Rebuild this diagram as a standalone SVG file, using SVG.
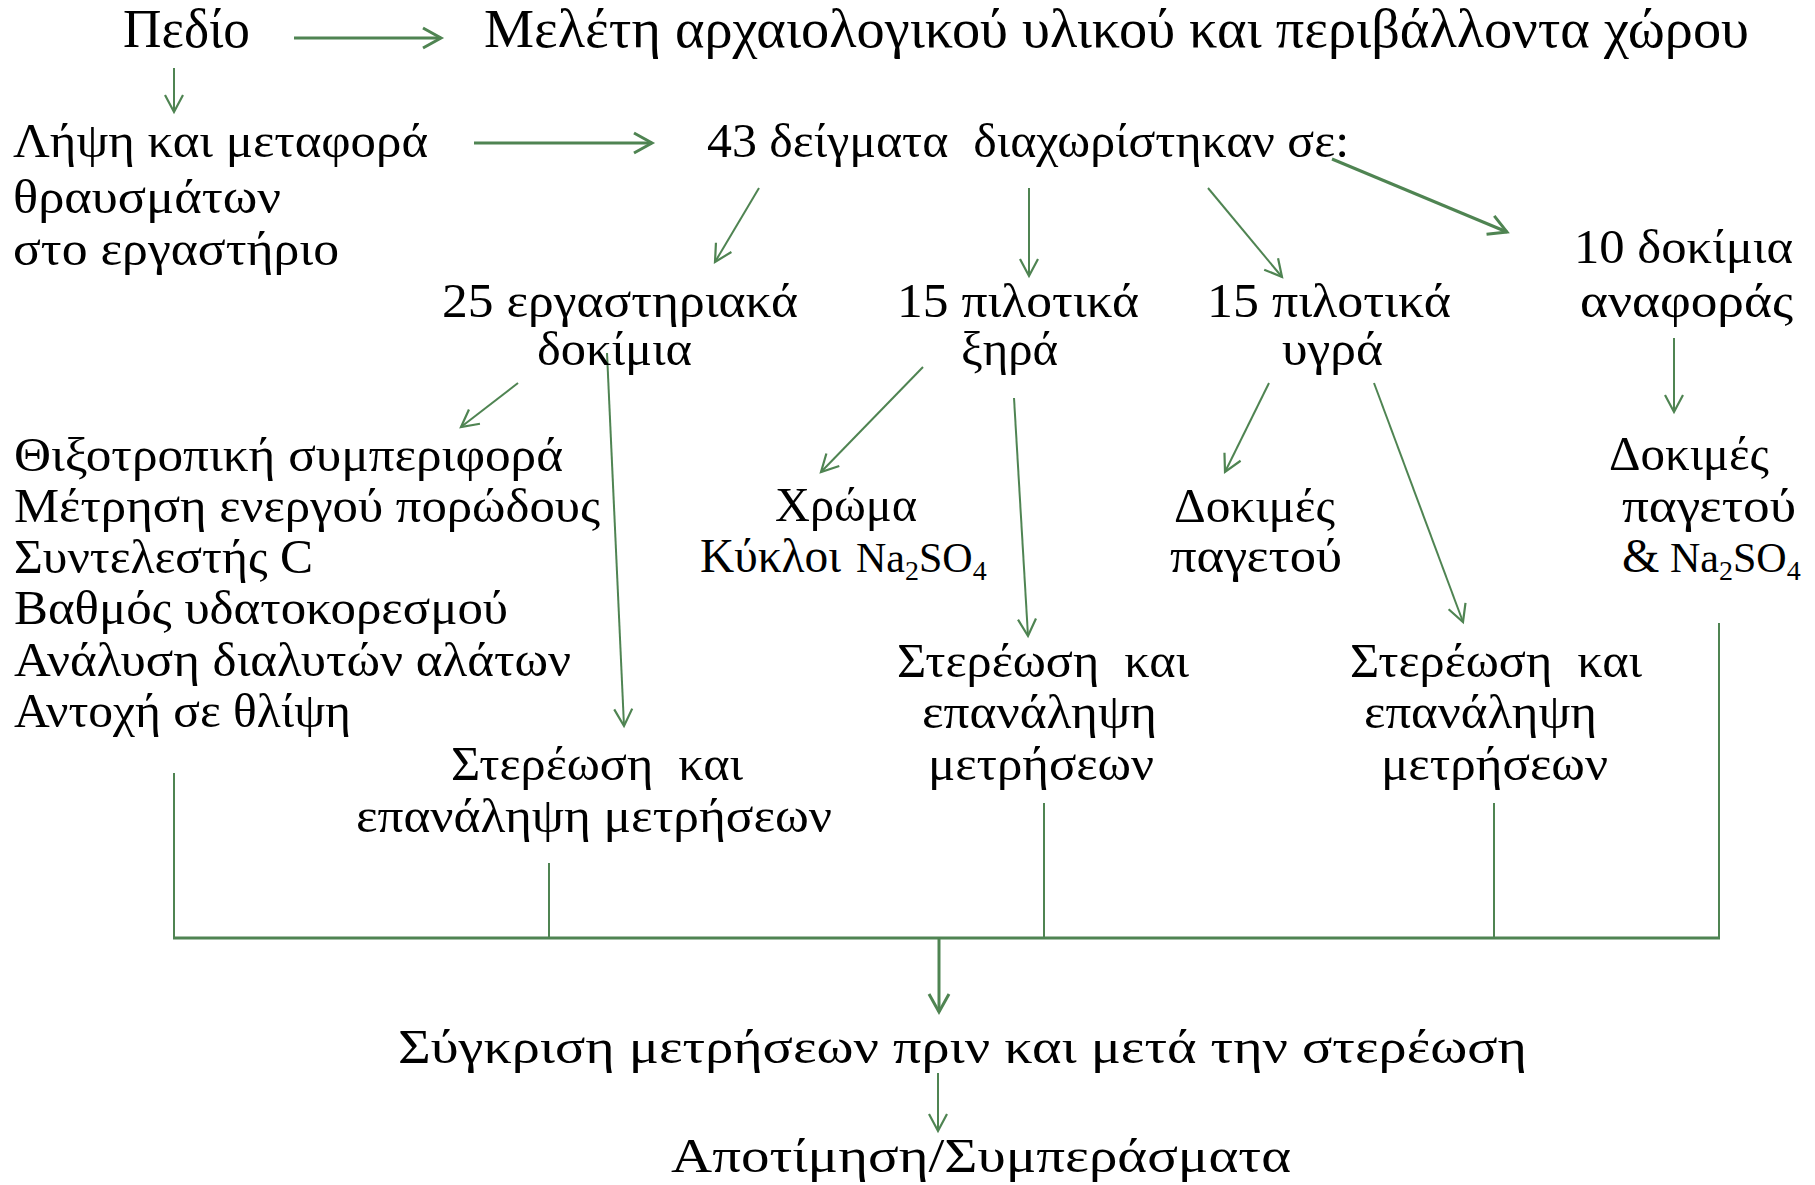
<svg xmlns="http://www.w3.org/2000/svg" width="1815" height="1185" viewBox="0 0 1815 1185">
<style>
text{font-family:"Liberation Serif","Times New Roman",serif;fill:#000;font-size:48px}
.big{font-size:55px}
.c{fill:none;stroke:#4F8452;stroke-width:2}
.k{fill:none;stroke:#4F8452;stroke-width:3}
.chem{font-size:42px}
.sub{font-size:28px}
</style>
<defs>
<marker id="ah" markerUnits="userSpaceOnUse" viewBox="-20 -12 24 24" refX="0" refY="0" markerWidth="24" markerHeight="24" orient="auto">
<path d="M-17,-9 L0,0 L-17,9" fill="none" stroke="#4F8452" stroke-width="2.2"/>
</marker>
<marker id="ahk" markerUnits="userSpaceOnUse" viewBox="-20 -12 24 24" refX="0" refY="0" markerWidth="24" markerHeight="24" orient="auto">
<path d="M-18,-10 L0,0 L-18,10" fill="none" stroke="#4F8452" stroke-width="3"/>
</marker>
</defs>
<rect width="1815" height="1185" fill="#fff"/>
<g id="connectors">
<line class="k" x1="294" y1="38" x2="441" y2="38" marker-end="url(#ahk)"/>
<line class="c" x1="174" y1="68" x2="174" y2="112" marker-end="url(#ah)"/>
<line class="k" x1="474" y1="143" x2="652" y2="143" marker-end="url(#ahk)"/>
<line class="c" x1="759" y1="188" x2="715" y2="262" marker-end="url(#ah)"/>
<line class="c" x1="1029" y1="188" x2="1029" y2="276" marker-end="url(#ah)"/>
<line class="c" x1="1208" y1="188" x2="1282" y2="277" marker-end="url(#ah)"/>
<line class="k" x1="1332" y1="159" x2="1507" y2="232" marker-end="url(#ahk)"/>
<line class="c" x1="518" y1="383" x2="461" y2="427" marker-end="url(#ah)"/>
<line class="c" x1="607" y1="353" x2="624" y2="726" marker-end="url(#ah)"/>
<line class="c" x1="923" y1="367" x2="821" y2="472" marker-end="url(#ah)"/>
<line class="c" x1="1014" y1="398" x2="1028" y2="636" marker-end="url(#ah)"/>
<line class="c" x1="1269" y1="383" x2="1225" y2="472" marker-end="url(#ah)"/>
<line class="c" x1="1374" y1="383" x2="1463" y2="622" marker-end="url(#ah)"/>
<line class="c" x1="1674" y1="338" x2="1674" y2="412" marker-end="url(#ah)"/>
<path class="c" d="M174,773 V938 M549,863 V938 M1044,803 V938 M1494,803 V938 M1719,623 V938"/>
<line class="k" x1="173" y1="938" x2="1720" y2="938"/>
<line class="k" x1="939" y1="938" x2="939" y2="1012" marker-end="url(#ahk)"/>
<line class="c" x1="938" y1="1073" x2="938" y2="1131" marker-end="url(#ah)"/>
</g>
<g id="n-pedio"><text class="big" x="123" y="47" textLength="127" lengthAdjust="spacingAndGlyphs">Πεδίο</text></g>
<g id="n-meleti"><text class="big" x="484" y="47" textLength="1265" lengthAdjust="spacingAndGlyphs">Μελέτη αρχαιολογικού υλικού και περιβάλλοντα χώρου</text></g>
<g id="n-lipsi">
<text x="13" y="157" textLength="415" lengthAdjust="spacingAndGlyphs">Λήψη και μεταφορά</text>
<text x="13" y="213" textLength="268" lengthAdjust="spacingAndGlyphs">θραυσμάτων</text>
<text x="13" y="265" textLength="326" lengthAdjust="spacingAndGlyphs">στο εργαστήριο</text>
</g>
<g id="n-43"><text x="707" y="157" xml:space="preserve" textLength="642" lengthAdjust="spacingAndGlyphs">43 δείγματα  διαχωρίστηκαν σε:</text></g>
<g id="n-25">
<text x="442" y="317" textLength="356" lengthAdjust="spacingAndGlyphs">25 εργαστηριακά</text>
<text x="537" y="365" textLength="155" lengthAdjust="spacingAndGlyphs">δοκίμια</text>
</g>
<g id="n-xira">
<text x="897" y="317" textLength="242" lengthAdjust="spacingAndGlyphs">15 πιλοτικά</text>
<text x="961" y="365" textLength="97" lengthAdjust="spacingAndGlyphs">ξηρά</text>
</g>
<g id="n-ygra">
<text x="1207" y="317" textLength="244" lengthAdjust="spacingAndGlyphs">15 πιλοτικά</text>
<text x="1282" y="365" textLength="101" lengthAdjust="spacingAndGlyphs">υγρά</text>
</g>
<g id="n-10">
<text x="1574" y="263" textLength="219" lengthAdjust="spacingAndGlyphs">10 δοκίμια</text>
<text x="1580" y="317" textLength="213" lengthAdjust="spacingAndGlyphs">αναφοράς</text>
</g>
<g id="n-list">
<text x="14" y="471" textLength="549" lengthAdjust="spacingAndGlyphs">Θιξοτροπική συμπεριφορά</text>
<text x="14" y="522" textLength="586" lengthAdjust="spacingAndGlyphs">Μέτρηση ενεργού πορώδους</text>
<text x="14" y="573" textLength="299" lengthAdjust="spacingAndGlyphs">Συντελεστής C</text>
<text x="14" y="624" textLength="494" lengthAdjust="spacingAndGlyphs">Βαθμός υδατοκορεσμού</text>
<text x="14" y="676" textLength="557" lengthAdjust="spacingAndGlyphs">Ανάλυση διαλυτών αλάτων</text>
<text x="14" y="727" textLength="337" lengthAdjust="spacingAndGlyphs">Αντοχή σε θλίψη</text>
</g>
<g id="n-xroma">
<text x="775" y="521" textLength="142" lengthAdjust="spacingAndGlyphs">Χρώμα</text>
<text x="700" y="572" textLength="141" lengthAdjust="spacingAndGlyphs">Κύκλοι</text>
<text class="chem" x="856" y="572">Na<tspan class="sub" dy="8">2</tspan><tspan dy="-8">SO</tspan><tspan class="sub" dy="8">4</tspan></text>
</g>
<g id="n-pagetou">
<text x="1174" y="522" textLength="161" lengthAdjust="spacingAndGlyphs">Δοκιμές</text>
<text x="1170" y="572" textLength="172" lengthAdjust="spacingAndGlyphs">παγετού</text>
</g>
<g id="n-pagetou2">
<text x="1609" y="470" textLength="160" lengthAdjust="spacingAndGlyphs">Δοκιμές</text>
<text x="1622" y="522" textLength="174" lengthAdjust="spacingAndGlyphs">παγετού</text>
<text x="1622" y="572">&amp;</text>
<text class="chem" x="1670" y="572">Na<tspan class="sub" dy="8">2</tspan><tspan dy="-8">SO</tspan><tspan class="sub" dy="8">4</tspan></text>
</g>
<g id="n-ster1">
<text x="451" y="780" xml:space="preserve" textLength="292" lengthAdjust="spacingAndGlyphs">Στερέωση  και</text>
<text x="356" y="832" textLength="476" lengthAdjust="spacingAndGlyphs">επανάληψη μετρήσεων</text>
</g>
<g id="n-ster2">
<text x="897" y="677" xml:space="preserve" textLength="292" lengthAdjust="spacingAndGlyphs">Στερέωση  και</text>
<text x="922" y="728" textLength="235" lengthAdjust="spacingAndGlyphs">επανάληψη</text>
<text x="928" y="780" textLength="226" lengthAdjust="spacingAndGlyphs">μετρήσεων</text>
</g>
<g id="n-ster3">
<text x="1350" y="677" xml:space="preserve" textLength="292" lengthAdjust="spacingAndGlyphs">Στερέωση  και</text>
<text x="1364" y="728" textLength="233" lengthAdjust="spacingAndGlyphs">επανάληψη</text>
<text x="1381" y="780" textLength="227" lengthAdjust="spacingAndGlyphs">μετρήσεων</text>
</g>
<g id="n-sygkrisi"><text x="398" y="1063" textLength="1129" lengthAdjust="spacingAndGlyphs">Σύγκριση μετρήσεων πριν και μετά την στερέωση</text></g>
<g id="n-apotimisi"><text x="671" y="1172" textLength="620" lengthAdjust="spacingAndGlyphs">Αποτίμηση/Συμπεράσματα</text></g>
</svg>
